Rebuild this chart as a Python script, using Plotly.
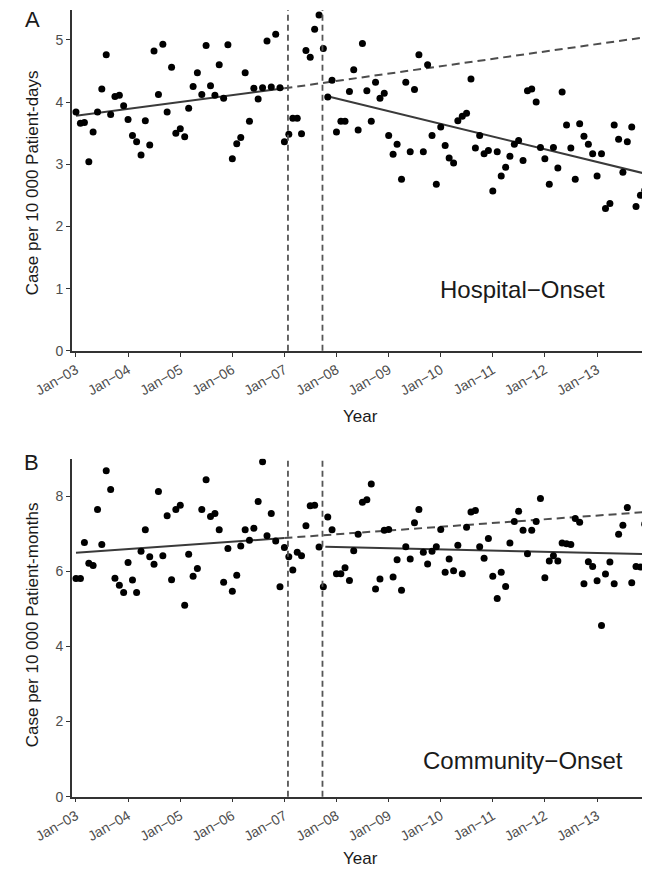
import pandas as pd
import plotly.graph_objects as go

# ---------------- data ----------------
months = pd.date_range("2003-01-01", "2013-12-01", freq="MS").strftime("%Y-%m-%d").tolist()

hospital_onset = [
    3.84, 3.66, 3.67, 3.04, 3.52, 3.84, 4.21, 4.76, 3.80, 4.09, 4.11, 3.94,
    3.72, 3.46, 3.36, 3.15, 3.70, 3.31, 4.82, 4.12, 4.93, 3.84, 4.56, 3.50,
    3.57, 3.44, 3.90, 4.25, 4.47, 4.12, 4.91, 4.26, 4.11, 4.60, 4.06, 4.92,
    3.09, 3.33, 3.43, 4.47, 3.69, 4.22, 4.05, 4.23, 4.98, 4.24, 5.09, 4.23,
    3.36, 3.48, 3.74, 3.74, 3.49, 4.83, 4.72, 5.17, 5.40, 4.86, 4.08, 4.35,
    3.52, 3.69, 3.69, 4.17, 4.52, 3.55, 4.94, 4.18, 3.69, 4.32, 4.06, 4.14,
    3.46, 3.16, 3.32, 2.76, 4.32, 3.20, 4.20, 4.76, 3.20, 4.60, 3.46, 2.68,
    3.60, 3.30, 3.10, 3.02, 3.70, 3.77, 3.82, 4.37, 3.26, 3.46, 3.17, 3.22,
    2.57, 3.20, 2.81, 2.95, 3.13, 3.32, 3.38, 3.06, 4.18, 4.21, 4.00, 3.27,
    3.09, 2.68, 3.27, 2.94, 4.16, 3.63, 3.26, 2.76, 3.65, 3.45, 3.32, 3.17,
    2.81, 3.17, 2.29, 2.37, 3.63, 3.40, 2.87, 3.36, 3.60, 2.32, 2.50, 2.58,
]

community_onset = [
    5.81, 5.81, 6.77, 6.22, 6.16, 7.65, 6.72, 8.68, 8.18, 5.82, 5.63, 5.44,
    6.24, 5.77, 5.44, 6.54, 7.11, 6.39, 6.19, 8.13, 6.42, 7.48, 5.78, 7.65,
    7.76, 5.10, 6.46, 5.87, 6.08, 7.65, 8.44, 7.46, 7.54, 7.11, 5.71, 6.61,
    5.47, 5.90, 6.68, 7.11, 6.83, 7.15, 7.86, 8.92, 6.95, 7.54, 6.81, 5.59,
    6.64, 6.39, 6.04, 6.51, 6.42, 7.22, 7.75, 7.76, 6.65, 5.59, 7.45, 7.11,
    5.94, 5.94, 6.10, 5.76, 6.55, 6.99, 7.84, 7.91, 8.33, 5.53, 5.80, 7.10,
    7.12, 5.85, 6.31, 5.50, 6.66, 6.33, 7.30, 7.65, 6.51, 6.20, 6.54, 6.66,
    7.12, 5.98, 6.33, 6.02, 6.70, 5.94, 7.18, 7.58, 7.62, 6.66, 6.35, 6.88,
    5.87, 5.28, 5.98, 5.60, 6.76, 7.33, 7.60, 7.10, 6.47, 7.10, 7.33, 7.94,
    5.83, 6.28, 6.42, 6.28, 6.76, 6.74, 6.72, 7.41, 7.31, 5.67, 6.26, 6.13,
    5.75, 4.56, 5.93, 6.25, 5.67, 6.99, 7.23, 7.70, 5.70, 6.13, 6.12, 7.26,
]

tick_dates = [f"20{y:02d}-01-01" for y in range(3, 14)]
tick_labels = [f"Jan\u2212{y:02d}" for y in range(3, 14)]

interruption_dates = ["2007-01-26", "2007-09-25"]

pre_dates = ["2003-01-01", "2007-01-01"]
counterfactual_dates = ["2007-01-01", "2013-12-01"]
post_dates = ["2007-10-15", "2013-12-01"]

hospital_pre = [3.78, 4.22]
hospital_counterfactual = [4.22, 5.04]
hospital_post = [4.10, 2.85]

community_pre = [6.50, 6.89]
community_counterfactual = [6.89, 7.58]
community_post = [6.66, 6.46]

# ---------------- figure ----------------
OFF = 8                      # page body margin of the browser
W, H = 650 - OFF, 876 - OFF
ML, MR = 72 - OFF, 2
PW = W - ML - MR


def py(pix):
    return 1 - (pix - OFF) / H


def px(pix):
    return (pix - OFF - ML) / PW


FONT = "Liberation Sans, Arial, sans-serif"
fig = go.Figure()

panels = [
    dict(x="x", y="y", data=hospital_onset, pre=hospital_pre, cf=hospital_counterfactual, post=hospital_post),
    dict(x="x2", y="y2", data=community_onset, pre=community_pre, cf=community_counterfactual, post=community_post),
]

for p in panels:
    fig.add_trace(go.Scatter(x=pre_dates, y=p["pre"], mode="lines", xaxis=p["x"], yaxis=p["y"],
                             line=dict(color="#3a3a3a", width=2), hoverinfo="skip"))
    fig.add_trace(go.Scatter(x=counterfactual_dates, y=p["cf"], mode="lines", xaxis=p["x"], yaxis=p["y"],
                             line=dict(color="#4d4d4d", width=2, dash="8px,5px"), hoverinfo="skip"))
    fig.add_trace(go.Scatter(x=post_dates, y=p["post"], mode="lines", xaxis=p["x"], yaxis=p["y"],
                             line=dict(color="#3a3a3a", width=2), hoverinfo="skip"))
    fig.add_trace(go.Scatter(x=months, y=p["data"], mode="markers", xaxis=p["x"], yaxis=p["y"],
                             marker=dict(color="black", size=7, line=dict(width=0))))
    for d in interruption_dates:
        fig.add_shape(type="line", xref=p["x"], yref=p["y"] + " domain", x0=d, x1=d, y0=0, y1=1,
                      line=dict(color="#555555", width=1.8, dash="6px,4px"))

xaxis_common = dict(
    type="date", range=["2002-12-04", "2013-12-24"], tickvals=tick_dates, ticktext=tick_labels,
    tickangle=-30, tickfont=dict(family=FONT, size=14, color="#4d4d4d"),
    showline=True, linecolor="#333333", linewidth=1.6, ticks="outside", ticklen=4,
    tickcolor="#333333", tickwidth=1.2, showgrid=False, zeroline=False, domain=[0, 1],
)
yaxis_common = dict(
    tickfont=dict(family=FONT, size=14, color="#4d4d4d"),
    showline=True, linecolor="#333333", linewidth=1.6, ticks="outside", ticklen=4,
    tickcolor="#333333", tickwidth=1.2, showgrid=False, zeroline=False,
)

fig.update_layout(
    width=W, height=H, margin=dict(l=ML, r=MR, t=0, b=0),
    plot_bgcolor="white", paper_bgcolor="white", showlegend=False,
    xaxis=dict(**xaxis_common, anchor="y"),
    xaxis2=dict(**xaxis_common, anchor="y2"),
    yaxis=dict(**yaxis_common, anchor="x", range=[0, 5.48], tickvals=[0, 1, 2, 3, 4, 5],
               domain=[py(354), py(10)]),
    yaxis2=dict(**yaxis_common, anchor="x2", range=[0, 9.0], tickvals=[0, 2, 4, 6, 8],
                domain=[py(804), py(463)]),
)

annots = [
    dict(text="A", x=px(32), y=py(20), size=22),
    dict(text="B", x=px(31), y=py(467), size=22),
    dict(text="Year", x=0.5, y=py(420), size=17),
    dict(text="Year", x=0.5, y=py(866), size=17),
]
for a in annots:
    fig.add_annotation(text=a["text"], x=a["x"], y=a["y"], xref="paper", yref="paper",
                       showarrow=False, xanchor="center", yanchor="middle",
                       font=dict(family=FONT, size=a["size"], color="#1a1a1a"))

for txt, yc in [("Case per 10 000 Patient-days", 185), ("Case per 10 000 Patient-months", 631)]:
    fig.add_annotation(text=txt, x=px(32), y=py(yc), xref="paper", yref="paper", textangle=-90,
                       showarrow=False, xanchor="center", yanchor="middle",
                       font=dict(family=FONT, size=17, color="#1a1a1a"))

fig.add_annotation(text="Hospital\u2212Onset", x="2011-07-31", y=0.99, xref="x", yref="y",
                   showarrow=False, xanchor="center", yanchor="middle",
                   font=dict(family=FONT, size=24, color="#1a1a1a"))
fig.add_annotation(text="Community\u2212Onset", x="2011-07-31", y=0.95, xref="x2", yref="y2",
                   showarrow=False, xanchor="center", yanchor="middle",
                   font=dict(family=FONT, size=24, color="#1a1a1a"))

fig.write_html("out.html")
